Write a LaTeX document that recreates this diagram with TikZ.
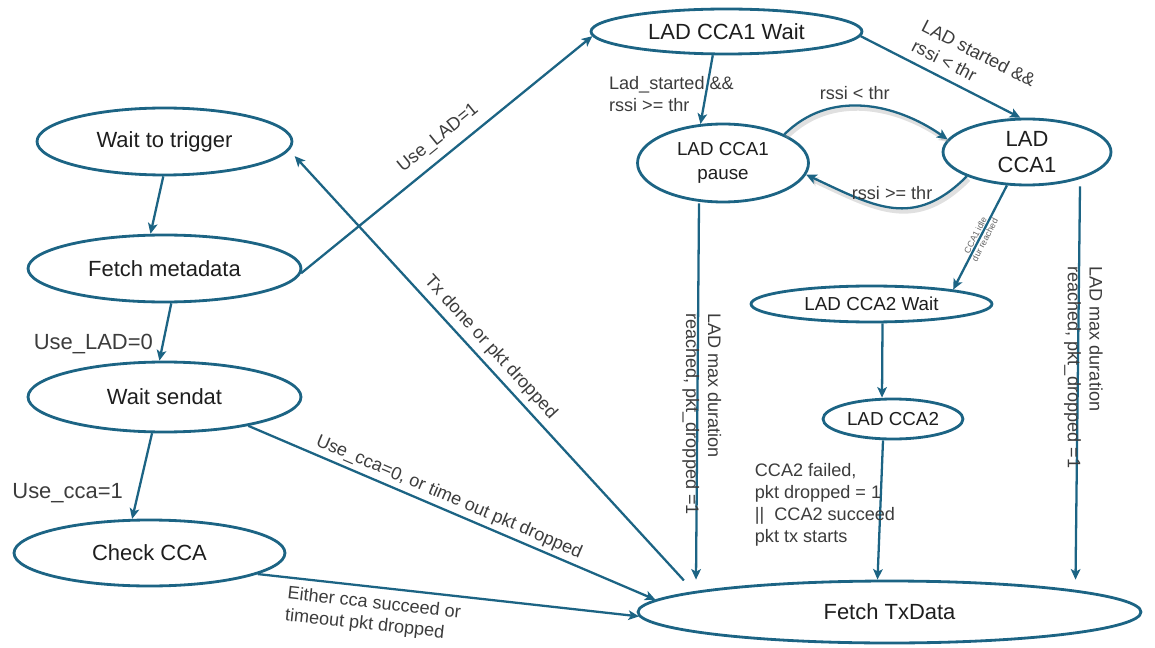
\documentclass[tikz,border=0pt]{standalone}
\usepackage{fontspec}
\setmainfont{Liberation Sans}
\usetikzlibrary{shapes.geometric, arrows.meta}
\definecolor{StateBlue}{RGB}{28,100,132}
\definecolor{InkGrey}{RGB}{30,30,30}
\definecolor{LabelGrey}{RGB}{60,60,60}

\begin{document}
\begin{tikzpicture}[
    x=0.02cm, y=-0.02cm,
    state/.style = {ellipse, draw=StateBlue, line width=1.6pt, inner sep=0pt, text=InkGrey, align=center, font=\fontsize{12.5}{15}\selectfont},
    substate/.style = {state, font=\fontsize{10.7}{13.5}\selectfont},
    flow/.style = {draw=StateBlue, line width=1.3pt, -{Stealth[length=6pt, width=5.5pt, inset=1.5pt]}},
    cond/.style = {text=LabelGrey, font=\fontsize{10.3}{12.5}\selectfont, inner sep=1pt, align=left},
    bigcond/.style = {cond, font=\fontsize{12.5}{15}\selectfont},
    tinycond/.style = {cond, text=LabelGrey!80, font=\fontsize{5}{6}\selectfont, align=center, inner sep=0pt},
    softshadow/.style = {preaction={draw=black!40, opacity=0.3, line width=3pt, transform canvas={shift={(1pt,-1.5pt)}}}}
]
\useasboundingbox (0,0) rectangle (1155,648);
% Sender states on the left
\node[state, minimum width=5.10cm, minimum height=1.34cm] (wtt) at (164.5,141.5) {Wait to trigger};
\node[state, minimum width=5.46cm, minimum height=1.34cm] (fmd) at (164.5,268.5) {Fetch metadata};
\node[state, minimum width=5.46cm, minimum height=1.40cm] (wsd) at (164.5,397) {Wait sendat};
\node[state, minimum width=5.42cm, minimum height=1.32cm] (cca) at (149.5,553) {Check CCA};
\node[state, minimum width=10.06cm, minimum height=1.24cm] (ftx) at (889.5,612) {Fetch TxData};
% LAD states on the right
\node[state, minimum width=5.42cm, minimum height=0.90cm] (w1) at (726.5,31.5) {LAD CCA1 Wait};
\node[substate, minimum width=3.42cm, minimum height=1.56cm] (p1) at (723,163) {LAD CCA1\\pause};
\node[state, minimum width=3.36cm, minimum height=1.32cm] (c1) at (1027,152) {LAD\\CCA1};
\node[substate, minimum width=4.82cm, minimum height=0.72cm] (w2) at (871.5,304) {LAD CCA2 Wait};
\node[substate, minimum width=2.80cm, minimum height=0.80cm] (c2) at (893,419) {LAD CCA2};

% Left column transitions
\draw[flow] (wtt.-92.5) -- (fmd.112);
\draw[flow] (fmd.-79.3) -- node[bigcond, pos=0.71, left=4pt] {Use\_LAD=0} (wsd.98.7);
\draw[flow] (wsd.-109.7) -- node[bigcond, pos=0.7, left=7pt] {Use\_cca=1} (cca.117.2);
\draw[flow] (fmd.-2) -- node[cond, pos=0.51, sloped, above=4pt] {Use\_LAD=1} (w1.182);
\draw[flow, shorten <=0.3cm, shorten >=0.16cm] (ftx.174.9) -- node[cond, pos=0.53, sloped, above=2pt] {Tx done or pkt dropped} (wtt.-4.7);
\draw[flow] (wsd.-19.9) -- node[cond, pos=0.48, sloped, above=1pt] {Use\_cca=0, or time out pkt dropped} (ftx.177.6);
\draw[flow] (cca.-11) -- node[cond, pos=0.31, sloped, below=3pt] {Either cca succeed or\\timeout pkt dropped} (ftx.181.1);

% LAD transitions
\draw[flow] (w1.-120) -- node[cond, pos=0.56, xshift=-0.69cm] {Lad\_started \&\&\\rssi >= thr} (p1.120.8);
\draw[flow] (w1.-2.5) -- node[cond, pos=0.63, sloped, above=4pt] {LAD started \&\&\\rssi < thr} (c1.101);
\draw[flow, softshadow] (p1.25) to[out=45, in=145] node[cond, pos=0.45, above=2pt] {rssi < thr} (c1.171.5);
\draw[flow, softshadow] (c1.202) to[out=225, in=-25, looseness=1.2] node[cond, pos=0.5, above=3pt] {rssi >= thr} (p1.-8);
\draw[flow] (c1.-121) -- node[tinycond, sloped] {CCA1 idle\\dur reached} (w2.10.7);
\draw[flow] ([shift={(11,0)}]w2.south) -- ([shift={(-11,0)}]c2.north);
\draw[flow] ([shift={(-10,0)}]c2.south) -- node[cond, pos=0.46, xshift=-1.11cm] {CCA2 failed,\\pkt dropped = 1\\||\ \ CCA2 succeed\\pkt tx starts} ([shift={(-12,0)}]ftx.north);
\draw[flow] ([shift={(-24,0)}]p1.south) -- node[cond, pos=0.56, xshift=0.09cm, rotate=-90] {LAD max duration\\reached, pkt\_dropped =1} ([shift={(-193.5,0)}]ftx.north);
\draw[flow] ([shift={(53,0)}]c1.south) -- node[cond, pos=0.46, xshift=0.11cm, rotate=-90] {LAD max duration\\reached, pkt\_dropped =1} ([shift={(186,0)}]ftx.north);
\end{tikzpicture}
\end{document}
